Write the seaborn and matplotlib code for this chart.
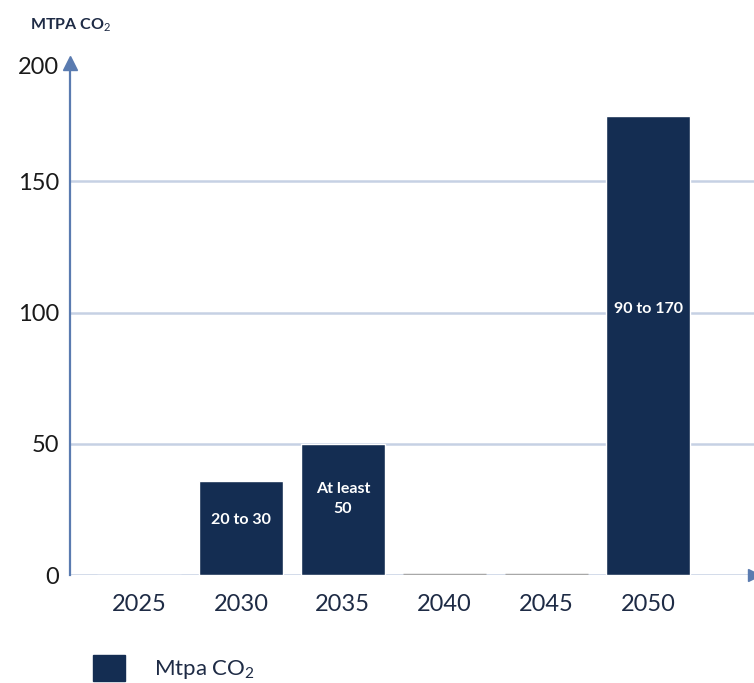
import matplotlib
matplotlib.use("Agg")
import matplotlib.pyplot as plt
import matplotlib.transforms as mtransforms
import seaborn as sns
import pandas as pd
from matplotlib.patches import Patch

years = ["2025", "2030", "2035", "2040", "2045", "2050"]
values = [0, 36, 50, 0, 0, 175]
bar_labels = ["", "20 to 30", "At least\n50", "", "", "90 to 170"]
y_ticks = [0, 50, 100, 150, 200]
y_title = "MTPA CO$_2$"
legend_label = "Mtpa CO$_2$"

NAVY = "#142d52"
TEXT = "#1e2b45"
GRID = "#c6d1e4"
AXIS = "#5a7bb0"

sns.set_theme(style="white")
plt.rcParams["font.family"] = ["Lato", "DejaVu Sans"]
plt.rcParams["mathtext.fontset"] = "custom"
plt.rcParams["mathtext.rm"] = "Lato"
plt.rcParams["mathtext.bf"] = "Lato:bold"
plt.rcParams["mathtext.it"] = "Lato:italic"

df = pd.DataFrame({"year": years, "value": values})

fig = plt.figure(figsize=(7.54, 6.83), dpi=100)
ax = fig.add_axes([70 / 754, 108 / 683, 684 / 754, 525 / 683])

sns.barplot(data=df, x="year", y="value", color=NAVY, saturation=1,
            width=0.82, ax=ax, zorder=3)

# grey outline for the zero-height bars of 2040 / 2045
for p, yr in zip(ax.patches, years):
    if yr in ("2040", "2045"):
        p.set_edgecolor("#a8a8a8")
        p.set_linewidth(2.5)
        p.set_zorder(4)

ax.set_ylim(0, 200)
ax.set_xlim(-0.68, 6.04)
ax.set_yticks(y_ticks)
ax.set_yticklabels([str(t) for t in y_ticks])
ax.set_xlabel("")
ax.set_ylabel("")

for t in y_ticks[:-1]:
    ax.axhline(t, color=GRID, lw=1.8, zorder=1)

for s in ["top", "right", "bottom"]:
    ax.spines[s].set_visible(False)
ax.spines["left"].set_color(AXIS)
ax.spines["left"].set_linewidth(1.6)
ax.spines["left"].set_bounds(0, 193)
ax.plot(0, 195, marker="^", color=AXIS, markersize=10, clip_on=False,
        transform=ax.get_yaxis_transform(which="grid"), zorder=5)
ax.plot(1, 0, marker=">", color=AXIS, markersize=9, clip_on=False,
        transform=ax.get_yaxis_transform(), zorder=5)

ax.tick_params(axis="x", length=0, pad=14, labelsize=17, labelcolor=TEXT)
ax.tick_params(axis="y", length=0, pad=8, labelsize=17, labelcolor="#1a1a1a")

# top tick label sits a little lower, beside the arrow head
fig.canvas.draw()
top_lab = ax.get_yticklabels()[-1]
top_lab.set_transform(top_lab.get_transform() +
                      mtransforms.ScaledTranslation(0, -15 / 100, fig.dpi_scale_trans))

for p, lab in zip(ax.patches, bar_labels):
    if lab:
        h = p.get_height()
        ax.text(p.get_x() + p.get_width() / 2, h * 0.58, lab,
                ha="center", va="center", color="white", fontsize=11.5,
                fontweight="bold", linespacing=1.6, zorder=6)

fig.text(30 / 754, 1 - 25 / 683, y_title, fontsize=11.5, fontweight="bold",
         color=TEXT, ha="left", va="center")

handle = Patch(facecolor=NAVY, edgecolor=NAVY)
fig.legend([handle], [legend_label], loc="center left",
           bbox_to_anchor=(93 / 754, 1 - 668 / 683), frameon=False,
           fontsize=16, handlelength=1.45, handleheight=1.45,
           handletextpad=1.3, borderpad=0, borderaxespad=0,
           labelcolor=TEXT)

fig.savefig("out.png", dpi=100)
